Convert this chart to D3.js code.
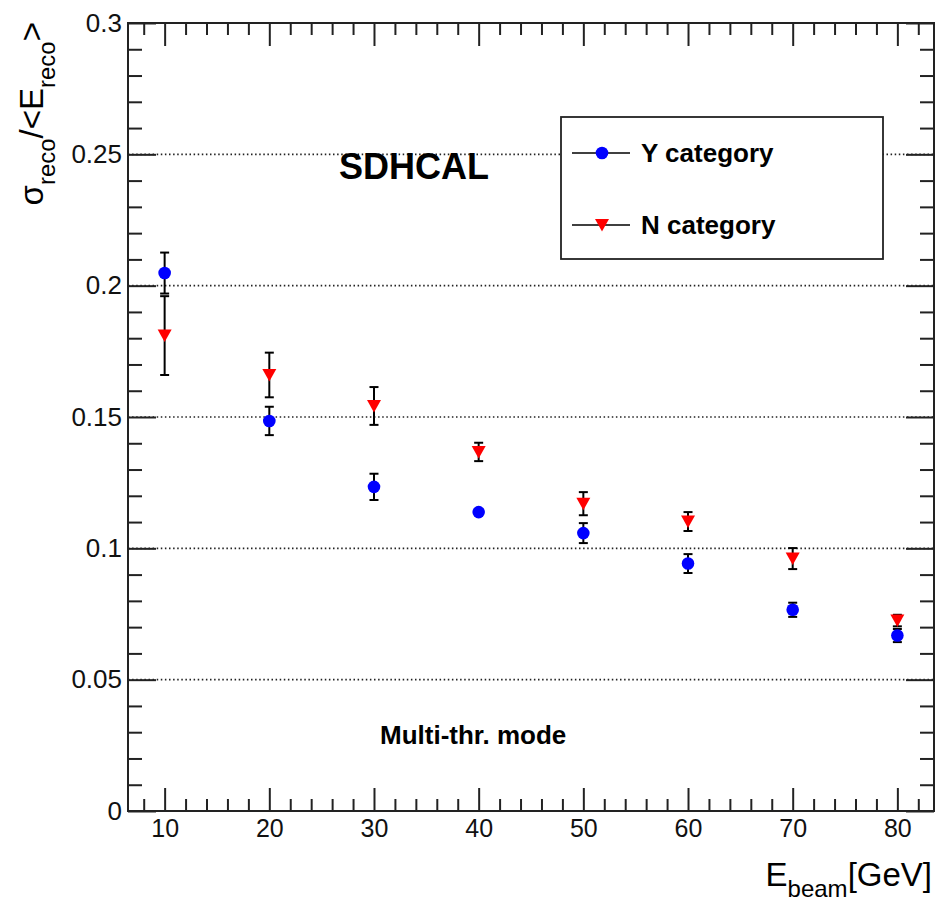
<!DOCTYPE html>
<html>
<head>
<meta charset="utf-8">
<script src="https://cdn.jsdelivr.net/npm/d3@7"></script>
<style>
  html, body { margin: 0; background: #fff; overflow: hidden; }
  svg { display: block; width: 100vw; height: 100vh; }
  text { font-family: "Liberation Sans", Arial, Helvetica, sans-serif; }
</style>
</head>
<body>
<div id="chart"></div>
<script>
// beam energies (GeV)
const energies = [10, 20, 30, 40, 50, 60, 70, 80];

// Y category: resolution and error
const yCatValues = [0.2048, 0.1485, 0.1234, 0.1138, 0.1058, 0.0942, 0.0766, 0.0668];
const yCatErrors = [0.0078, 0.0054, 0.0050, 0.0010, 0.0038, 0.0036, 0.0027, 0.0025];

// N category: resolution and error
const nCatValues = [0.1810, 0.1660, 0.1542, 0.1367, 0.1170, 0.1102, 0.0961, 0.0725];
const nCatErrors = [0.0150, 0.0085, 0.0072, 0.0035, 0.0044, 0.0036, 0.0040, 0.0022];

const xTickValues = [10, 20, 30, 40, 50, 60, 70, 80];
const xTickLabels = ["10", "20", "30", "40", "50", "60", "70", "80"];
const yTickValues = [0, 0.05, 0.1, 0.15, 0.2, 0.25, 0.3];
const yTickLabels = ["0", "0.05", "0.1", "0.15", "0.2", "0.25", "0.3"];
const gridValues = [0.05, 0.1, 0.15, 0.2, 0.25];

const width = 938, height = 903;
const margin = { top: 23, right: 4, bottom: 92, left: 128 };
const innerWidth = width - margin.left - margin.right;
const innerHeight = height - margin.top - margin.bottom;
const ink = "#222";

// viewBox keeps the whole chart inside the window
const svg = d3.select("#chart").append("svg")
    .attr("viewBox", `0 0 ${width} ${height}`)
    .style("background", "#fff");

const g = svg.append("g")
    .attr("transform", `translate(${margin.left},${margin.top})`);

// Scales
const x = d3.scaleLinear().domain([6.5, 83.5]).range([0, innerWidth]);
const y = d3.scaleLinear().domain([0, 0.3]).range([innerHeight, 0]);

const xMinor = d3.range(8, 84, 2).filter(v => v % 10 !== 0);
const yMinor = d3.range(1, 30).map(v => v / 100).filter((v, i) => (i + 1) % 5 !== 0);

// Dotted gridlines
g.append("g")
    .selectAll("line")
    .data(gridValues)
    .join("line")
    .attr("x1", 0).attr("x2", innerWidth)
    .attr("y1", d => y(d)).attr("y2", d => y(d))
    .attr("stroke", ink)
    .attr("stroke-width", 1.6)
    .attr("stroke-dasharray", "1.5,2.6");

// Axes helper
function styleAxis(sel, fontSize) {
    sel.select(".domain").remove();
    sel.selectAll(".tick line").attr("stroke", ink).attr("stroke-width", 2);
    sel.selectAll(".tick text").filter(function () { return !this.textContent; }).remove();
    sel.selectAll(".tick text")
        .attr("fill", "#111")
        .style("font-size", (fontSize || 25) + "px")
        .style("font-family", "'Liberation Sans', Arial, sans-serif");
}

// Bottom / top
g.append("g")
    .attr("transform", `translate(0,${innerHeight})`)
    .call(d3.axisBottom(x).tickValues(xTickValues)
        .tickFormat((d, i) => xTickLabels[i])
        .tickSizeInner(-23).tickSizeOuter(0).tickPadding(8))
    .call(styleAxis, 25);
g.append("g")
    .attr("transform", `translate(0,${innerHeight})`)
    .call(d3.axisBottom(x).tickValues(xMinor).tickFormat("")
        .tickSizeInner(-12).tickSizeOuter(0))
    .call(styleAxis);
g.append("g")
    .call(d3.axisTop(x).tickValues(xTickValues).tickFormat("")
        .tickSizeInner(-23).tickSizeOuter(0))
    .call(styleAxis);
g.append("g")
    .call(d3.axisTop(x).tickValues(xMinor).tickFormat("")
        .tickSizeInner(-12).tickSizeOuter(0))
    .call(styleAxis);

// Left / right
g.append("g")
    .call(d3.axisLeft(y).tickValues(yTickValues)
        .tickFormat((d, i) => yTickLabels[i])
        .tickSizeInner(-28).tickSizeOuter(0).tickPadding(6))
    .call(styleAxis, 26);
g.append("g")
    .call(d3.axisLeft(y).tickValues(yMinor).tickFormat("")
        .tickSizeInner(-14).tickSizeOuter(0))
    .call(styleAxis);
g.append("g")
    .attr("transform", `translate(${innerWidth},0)`)
    .call(d3.axisRight(y).tickValues(yTickValues).tickFormat("")
        .tickSizeInner(-28).tickSizeOuter(0))
    .call(styleAxis);
g.append("g")
    .attr("transform", `translate(${innerWidth},0)`)
    .call(d3.axisRight(y).tickValues(yMinor).tickFormat("")
        .tickSizeInner(-14).tickSizeOuter(0))
    .call(styleAxis);

// Frame
g.append("rect")
    .attr("width", innerWidth)
    .attr("height", innerHeight)
    .attr("fill", "none")
    .attr("stroke", ink)
    .attr("stroke-width", 2);

// Markers
const circle = d3.symbol().type(d3.symbolCircle).size(Math.PI * 6.3 * 6.3);
const triDown = () => "M-7,-6L7,-6L0,6.5Z";

function drawSeries(values, errors, kind) {
    const data = energies.map((e, i) => ({ e, v: values[i], err: errors[i] }));
    const s = g.append("g");
    const eb = s.selectAll(".eb").data(data).join("g")
        .attr("stroke", "#000").attr("stroke-width", 2);
    eb.append("line")
        .attr("x1", d => x(d.e)).attr("x2", d => x(d.e))
        .attr("y1", d => y(d.v - d.err)).attr("y2", d => y(d.v + d.err));
    eb.append("line")
        .attr("x1", d => x(d.e) - 4.5).attr("x2", d => x(d.e) + 4.5)
        .attr("y1", d => y(d.v + d.err)).attr("y2", d => y(d.v + d.err));
    eb.append("line")
        .attr("x1", d => x(d.e) - 4.5).attr("x2", d => x(d.e) + 4.5)
        .attr("y1", d => y(d.v - d.err)).attr("y2", d => y(d.v - d.err));
    s.selectAll(".m").data(data).join("path")
        .attr("transform", d => `translate(${x(d.e)},${y(d.v)})`)
        .attr("d", kind === "circle" ? circle : triDown)
        .attr("fill", kind === "circle" ? "#0000ff" : "#ff0000");
}
drawSeries(nCatValues, nCatErrors, "tri");
drawSeries(yCatValues, yCatErrors, "circle");

// Legend
const legend = svg.append("g").attr("transform", "translate(561,117)");
legend.append("rect")
    .attr("width", 322).attr("height", 142)
    .attr("fill", "#fff").attr("stroke", ink).attr("stroke-width", 1.8);
const entries = [
    { label: "Y category", kind: "circle", color: "#0000ff", cy: 36 },
    { label: "N category", kind: "tri", color: "#ff0000", cy: 108 }
];
entries.forEach(en => {
    legend.append("line")
        .attr("x1", 11).attr("x2", 69)
        .attr("y1", en.cy).attr("y2", en.cy)
        .attr("stroke", "#000").attr("stroke-width", 1.6);
    legend.append("path")
        .attr("transform", `translate(41,${en.cy})`)
        .attr("d", en.kind === "circle" ? circle : triDown)
        .attr("fill", en.color);
    legend.append("text")
        .attr("x", 80).attr("y", en.cy + 9)
        .style("font-size", "26px").style("font-weight", "bold")
        .text(en.label);
});

// Annotations
svg.append("text")
    .attr("x", 339).attr("y", 179)
    .style("font-size", "36px").style("font-weight", "bold")
    .text("SDHCAL");
svg.append("text")
    .attr("x", 380).attr("y", 744)
    .style("font-size", "26px").style("font-weight", "bold")
    .text("Multi-thr. mode");

// X title
const xt = svg.append("text")
    .attr("x", 932).attr("y", 886)
    .attr("text-anchor", "end")
    .style("font-size", "33px");
xt.append("tspan").text("E");
xt.append("tspan").attr("dy", 11).style("font-size", "24px").text("beam");
xt.append("tspan").attr("dy", -11).text("[GeV]");

// Y title
const yt = svg.append("text")
    .attr("transform", "translate(43,22) rotate(-90)")
    .attr("text-anchor", "end")
    .style("font-size", "33px");
yt.append("tspan").text("σ");
yt.append("tspan").attr("dy", 12).style("font-size", "24px").text("reco");
yt.append("tspan").attr("dy", -12).text("/<E");
yt.append("tspan").attr("dy", 12).style("font-size", "24px").text("reco");
yt.append("tspan").attr("dy", -12).text(">");
</script>
</body>
</html>
